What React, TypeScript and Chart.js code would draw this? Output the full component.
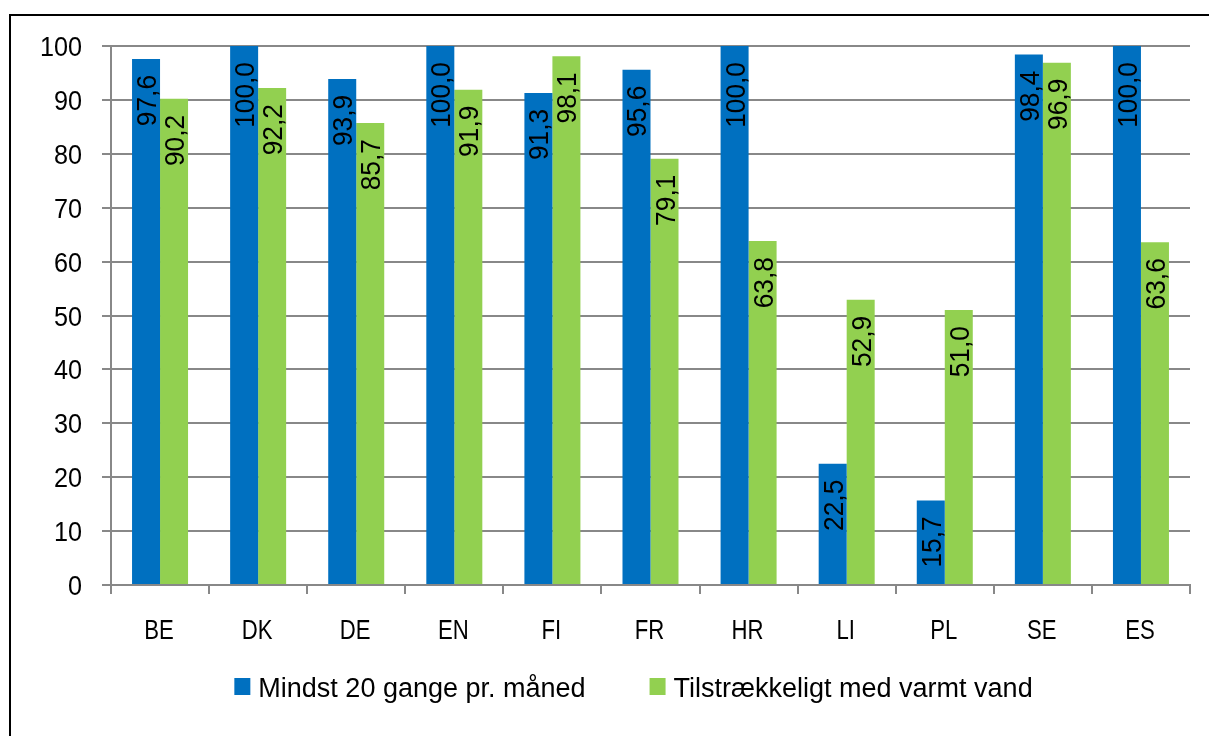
import React, { useEffect, useRef } from "react";
import { Chart, registerables } from "chart.js";

Chart.register(...registerables);

const categories = ["BE", "DK", "DE", "EN", "FI", "FR", "HR", "LI", "PL", "SE", "ES"];
const seriesNames = ["Mindst 20 gange pr. måned", "Tilstrækkeligt med varmt vand"];
const mindst20 = [97.6, 100.0, 93.9, 100.0, 91.3, 95.6, 100.0, 22.5, 15.7, 98.4, 100.0];
const varmtVand = [90.2, 92.2, 85.7, 91.9, 98.1, 79.1, 63.8, 52.9, 51.0, 96.9, 63.6];
const seriesColors = ["#0070C0", "#92D050"];
const yMin = 0;
const yMax = 100;
const yStep = 10;

const FONT = "'Liberation Sans', Arial, sans-serif";
const W = 1209;
const H = 736;

const fmt = (v: number) => v.toFixed(1).replace(".", ",");

function drawCondensed(ctx: any, text: string, x: number, y: number, sx: number) {
  ctx.save();
  ctx.translate(x, y);
  ctx.scale(sx, 1);
  ctx.fillText(text, 0, 0);
  ctx.restore();
}

const barLabelPlugin = {
  id: "barLabels",
  afterDatasetsDraw(chart: any) {
    const ctx = chart.ctx;
    ctx.save();
    ctx.font = `28px ${FONT}`;
    ctx.fillStyle = "#000";
    ctx.textAlign = "right";
    ctx.textBaseline = "alphabetic";
    chart.data.datasets.forEach((ds: any, di: number) => {
      const meta = chart.getDatasetMeta(di);
      meta.data.forEach((bar: any, i: number) => {
        ctx.save();
        ctx.translate(bar.x, bar.y + 16);
        ctx.rotate(-Math.PI / 2);
        ctx.scale(0.94, 1);
        ctx.fillText(fmt(ds.data[i]), 0, 10);
        ctx.restore();
      });
    });
    ctx.restore();
  },
};

const tickLabelPlugin = {
  id: "tickLabels",
  afterDraw(chart: any) {
    const ctx = chart.ctx;
    ctx.save();
    ctx.fillStyle = "#000";
    ctx.textBaseline = "alphabetic";
    const ys = chart.scales.y;
    ctx.font = `28px ${FONT}`;
    ctx.textAlign = "right";
    ys.ticks.forEach((t: any) => {
      const py = ys.getPixelForValue(t.value);
      drawCondensed(ctx, String(t.value), 82, py + 10, 0.9);
    });
    const xs = chart.scales.x;
    ctx.font = `27px ${FONT}`;
    ctx.textAlign = "center";
    xs.ticks.forEach((t: any, i: number) => {
      const px = xs.getPixelForTick(i);
      drawCondensed(ctx, String(chart.data.labels[i]), px - 1, 639, 0.82);
    });
    ctx.restore();
  },
};

const legendPlugin = {
  id: "customLegend",
  afterDraw(chart: any) {
    const ctx = chart.ctx;
    ctx.save();
    ctx.font = `27px ${FONT}`;
    ctx.textBaseline = "alphabetic";
    ctx.textAlign = "left";
    const boxW = 16;
    const boxH = 17;
    const gap = 8;
    const spacing = 64;
    const items = chart.data.datasets.map((ds: any) => ({
      label: ds.label,
      color: ds.backgroundColor,
      w: boxW + gap + ctx.measureText(ds.label).width,
    }));
    const total = items.reduce((s: number, it: any) => s + it.w, 0) + spacing * (items.length - 1);
    let x = 633.5 - total / 2;
    items.forEach((it: any) => {
      ctx.fillStyle = it.color;
      ctx.fillRect(x, 678, boxW, boxH);
      ctx.fillStyle = "#000";
      ctx.fillText(it.label, x + boxW + gap, 697);
      x += it.w + spacing;
    });
    ctx.restore();
  },
};

export default function App() {
  const ref = useRef<HTMLCanvasElement>(null);

  useEffect(() => {
    const canvas = ref.current;
    if (!canvas) return;
    const chart = new Chart(canvas, {
      type: "bar",
      data: {
        labels: categories,
        datasets: [
          { label: seriesNames[0], data: mindst20, backgroundColor: seriesColors[0] },
          { label: seriesNames[1], data: varmtVand, backgroundColor: seriesColors[1] },
        ],
      },
      options: {
        responsive: false,
        animation: false,
        devicePixelRatio: 1,
        layout: { padding: { left: 0, right: 19, top: 46, bottom: 0 } },
        datasets: { bar: { categoryPercentage: 0.571, barPercentage: 1.0 } },
        plugins: {
          legend: { display: false },
          tooltip: { enabled: false },
          title: { display: false },
        },
        scales: {
          x: {
            grid: {
              display: true,
              offset: true,
              drawOnChartArea: false,
              drawTicks: true,
              tickLength: 9,
              color: "#888888",
              lineWidth: 2,
            },
            border: { display: true, color: "#888888", width: 2 },
            ticks: {
              font: { family: FONT, size: 27 },
              color: "rgba(0,0,0,0)",
              padding: 18,
              maxRotation: 0,
              autoSkip: false,
            },
            afterFit: (s: any) => {
              s.height = 151;
            },
          },
          y: {
            min: yMin,
            max: yMax,
            grid: {
              display: true,
              drawTicks: true,
              tickLength: 9,
              color: "#888888",
              lineWidth: 2,
            },
            border: { display: true, color: "#888888", width: 2 },
            ticks: {
              stepSize: yStep,
              font: { family: FONT, size: 28 },
              color: "rgba(0,0,0,0)",
              padding: 20,
            },
            afterFit: (s: any) => {
              s.width = 111;
            },
          },
        },
      },
      plugins: [barLabelPlugin, tickLabelPlugin, legendPlugin],
    } as any);
    return () => chart.destroy();
  }, []);

  return (
    <div
      style={{
        position: "fixed",
        left: 0,
        top: 0,
        width: W,
        height: H,
        overflow: "hidden",
        background: "#fff",
      }}
    >
      <div
        style={{
          position: "absolute",
          left: 9,
          top: 14,
          width: 1300,
          height: 800,
          border: "2px solid #000",
          boxSizing: "border-box",
        }}
      />
      <canvas
        ref={ref}
        width={W}
        height={H}
        style={{ position: "absolute", left: 0, top: 0, width: W, height: H }}
      />
    </div>
  );
}
